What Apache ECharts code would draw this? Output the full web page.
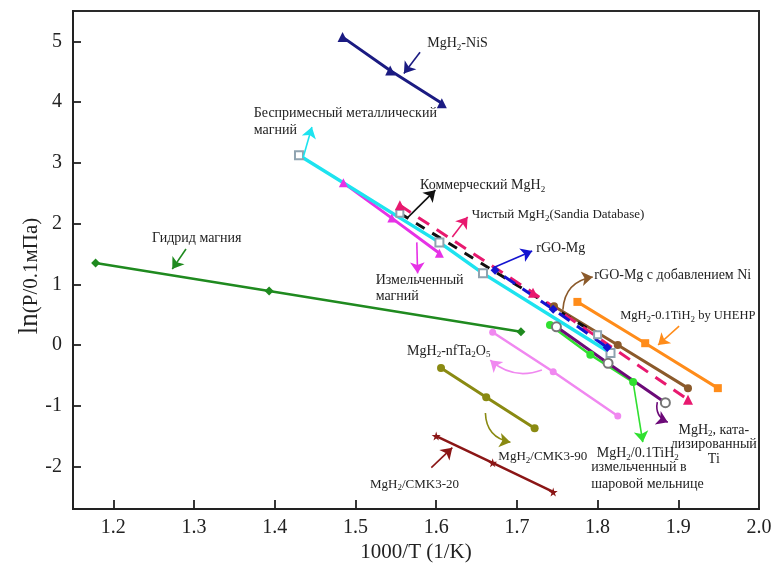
<!DOCTYPE html>
<html><head><meta charset="utf-8">
<script src="https://cdn.jsdelivr.net/npm/echarts@6/dist/echarts.min.js"></script>
<style>html,body{margin:0;padding:0;background:#fff}#c{width:775px;height:569px}</style>
</head><body><div id="c"></div>
<script>
// ---- tick labels ----
const xTickValues = [1.2, 1.3, 1.4, 1.5, 1.6, 1.7, 1.8, 1.9, 2.0];
const yTickValues = [-2, -1, 0, 1, 2, 3, 4, 5];

// ---- series values [1000/T, ln(P)] ----
const nisData        = [[1.484, 5.07], [1.543, 4.52], [1.607, 3.98]];
const pureMgData     = [[1.430, 3.125], [1.604, 1.69], [1.658, 1.18], [1.816, -0.13]];
const commercialData = [[1.555, 2.17], [1.800, 0.17]];
const sandiaData     = [[1.555, 2.30], [1.720, 0.86], [1.912, -0.90]];
const milledMgData   = [[1.485, 2.67], [1.545, 2.09], [1.604, 1.51]];
const hydrideData    = [[1.178, 1.35], [1.393, 0.89], [1.705, 0.22]];
const rgoData        = [[1.673, 1.23], [1.745, 0.59], [1.812, -0.04]];
const rgoNiData      = [[1.746, 0.64], [1.825, 0.00], [1.912, -0.71]];
const uhehpData      = [[1.775, 0.71], [1.859, 0.03], [1.949, -0.71]];
const tiCatData      = [[1.749, 0.30], [1.813, -0.30], [1.884, -0.95]];
const tiH2BallData   = [[1.741, 0.33], [1.791, -0.16], [1.844, -0.61]];
const ta2o5Data      = [[1.670, 0.21], [1.745, -0.44], [1.825, -1.17]];
const cmk90Data      = [[1.606, -0.38], [1.662, -0.86], [1.722, -1.37]];
const cmk20Data      = [[1.600, -1.50], [1.670, -1.94], [1.745, -2.42]];

// ---- annotation arrows: [xTail, yTail, xHead, yHead, curveness] ----
const arrowNiS      = [1.580, 4.82, 1.560, 4.47, 0];
const arrowPure     = [1.435, 3.08, 1.446, 3.59, 0];
const arrowComm     = [1.564, 2.09, 1.599, 2.55, 0];
const arrowSandia   = [1.620, 1.78, 1.639, 2.11, 0];
const arrowMilled   = [1.576, 1.69, 1.577, 1.18, 0];
const arrowHydride  = [1.290, 1.58, 1.273, 1.25, 0];
const arrowRgo      = [1.670, 1.27, 1.719, 1.55, 0];
const arrowRgoNi    = [1.757, 0.58, 1.794, 1.12, 0.4];
const arrowUhehp    = [1.901, 0.31, 1.875, 0.00, 0];
const arrowTa2o5    = [1.731, -0.41, 1.667, -0.25, 0.3];
const arrowCmk90    = [1.661, -1.12, 1.692, -1.60, -0.4];
const arrowCmk20    = [1.594, -2.02, 1.620, -1.69, 0];
const arrowTiH2Ball = [1.844, -0.61, 1.856, -1.60, 0];
const arrowTiCat    = [1.874, -0.94, 1.887, -1.27, -0.4];

// ---- annotation texts: [text, x, y, align] ----
const labelTexts = [
  ['MgH_{2}-NiS', 1.589, 4.97, 'left'],
  ['Беспримесный металлический', 1.374, 3.82, 'left'],
  ['магний', 1.374, 3.54, 'left'],
  ['Коммерческий MgH_{2}', 1.580, 2.63, 'left'],
  ['Чистый MgH_{2}(Sandia Database)', 1.644, 2.14, 'left'],
  ['Измельченный', 1.525, 1.07, 'left'],
  ['магний', 1.525, 0.81, 'left'],
  ['Гидрид магния', 1.248, 1.76, 'left'],
  ['rGO-Mg', 1.724, 1.60, 'left'],
  ['rGO-Mg с добавлением Ni', 1.796, 1.15, 'left'],
  ['MgH_{2}-0.1TiH_{2} by UHEHP', 1.828, 0.49, 'left'],
  ['MgH_{2}-nfTa_{2}O_{5}', 1.564, -0.10, 'left'],
  ['MgH_{2}/CMK3-90', 1.677, -1.83, 'left'],
  ['MgH_{2}/CMK3-20', 1.518, -2.29, 'left'],
  ['MgH_{2}/0.1TiH_{2}', 1.799, -1.79, 'left'],
  ['измельченный в', 1.792, -2.02, 'left'],
  ['шаровой мельнице', 1.792, -2.29, 'left'],
  ['MgH_{2}, ката-', 1.944, -1.40, 'center'],
  ['лизированный', 1.944, -1.64, 'center'],
  ['Ti', 1.944, -1.89, 'center']
];

const SERIF = '"Liberation Serif","Times New Roman",serif';
const STAR = 'path://M50,0 L61,35 L98,35 L68,57 L79,91 L50,70 L21,91 L32,57 L2,35 L39,35 Z';

function mk(name, data, color, o) {
  return {
    name: name, type: 'line', data: data,
    symbol: o.symbol, symbolSize: o.size,
    showSymbol: true,
    lineStyle: { color: color, width: o.width, type: o.dash || 'solid', dashOffset: o.dashOffset || 0 },
    itemStyle: { color: o.markerColor || color, borderWidth: o.markerColor ? 1.2 : 0 },
    emphasis: { disabled: true },
    animation: false, silent: true
  };
}

const arrowDefs = [
  [arrowNiS, '#1b1b82'], [arrowPure, '#1de3ef'], [arrowComm, '#111111'],
  [arrowSandia, '#e8196f'], [arrowMilled, '#e632e6'], [arrowHydride, '#1f8a1f'],
  [arrowRgo, '#1414d0'], [arrowRgoNi, '#8b5a2b'], [arrowUhehp, '#ff8c1a'],
  [arrowTa2o5, '#f088f0'], [arrowCmk90, '#8a8a12'], [arrowCmk20, '#8b1616'],
  [arrowTiH2Ball, '#30e030'], [arrowTiCat, '#6c0a78']
];

const series = [
  mk('Гидрид магния', hydrideData, '#1f8a1f', {symbol: 'diamond', size: 9, width: 2.5}),
  mk('MgH2/CMK3-90', cmk90Data, '#8a8a12', {symbol: 'circle', size: 8, width: 3}),
  mk('MgH2/CMK3-20', cmk20Data, '#8b1616', {symbol: STAR, size: 9, width: 2.5}),
  mk('MgH2-nfTa2O5', ta2o5Data, '#f088f0', {symbol: 'circle', size: 7, width: 2.5}),
  mk('MgH2/0.1TiH2 ball', tiH2BallData, '#30e030', {symbol: 'circle', size: 8, width: 2.5}),
  mk('MgH2 Ti', tiCatData, '#6c0a78', {symbol: 'emptyCircle', size: 9, width: 3, markerColor: '#777777'}),
  mk('rGO-Mg Ni', rgoNiData, '#8b5a2b', {symbol: 'circle', size: 8, width: 3}),
  mk('UHEHP', uhehpData, '#ff8c1a', {symbol: 'rect', size: 8, width: 3}),
  mk('Измельченный магний', milledMgData, '#e632e6', {symbol: 'triangle', size: 9, width: 3}),
  mk('Беспримесный', pureMgData, '#1de3ef', {symbol: 'emptyRect', size: 8, width: 3.5, markerColor: '#8fa3b0'}),
  mk('Коммерческий', commercialData, '#111111', {symbol: 'emptyRect', size: 7, width: 3, dash: [10, 9], markerColor: '#8fa3b0'}),
  mk('Sandia', sandiaData, '#e8196f', {symbol: 'triangle', size: 10, width: 3, dash: [13, 9]}),
  mk('rGO-Mg', rgoData, '#1414d0', {symbol: 'diamond', size: 9, width: 3, dash: [13, 9], dashOffset: 11}),
  mk('MgH2-NiS', nisData, '#1b1b82', {symbol: 'triangle', size: 10, width: 3}),
  {
    type: 'lines', coordinateSystem: 'cartesian2d',
    symbol: ['none', 'arrow'], symbolSize: [0, 11],
    silent: true, animation: false, z: 5,
    lineStyle: { width: 1.6, opacity: 1 },
    data: arrowDefs.map(function (d) {
      const a = d[0];
      return { coords: [[a[0], a[1]], [a[2], a[3]]], lineStyle: { color: d[1], curveness: a[4], width: 1.6 } };
    })
  }
];

const chart = echarts.init(document.getElementById('c'), null, {renderer: 'canvas'});
chart.setOption({
  backgroundColor: '#ffffff',
  animation: false,
  grid: { left: 73, right: 16, top: 11, bottom: 60, show: true, borderColor: '#2a2a2a', borderWidth: 2 },
  xAxis: {
    type: 'value', min: 1.15, max: 2.0,
    axisLine: { show: true, onZero: false, lineStyle: { color: '#222', width: 2 } },
    axisTick: { show: true, inside: true, length: 9, lineStyle: { color: '#222', width: 1.8 }, customValues: [1.2, 1.3, 1.4, 1.5, 1.6, 1.7, 1.8, 1.9] },
    axisLabel: { fontFamily: SERIF, fontSize: 20, color: '#222', margin: 9, customValues: xTickValues, showMaxLabel: true,
      formatter: function (v) { return v.toFixed(1); } },
    splitLine: { show: false }
  },
  yAxis: {
    type: 'value', min: -2.7, max: 5.5,
    axisLine: { show: true, onZero: false, lineStyle: { color: '#222', width: 2 } },
    axisTick: { show: true, inside: true, length: 8, lineStyle: { color: '#222', width: 1.8 }, customValues: yTickValues },
    axisLabel: { fontFamily: SERIF, fontSize: 20, color: '#222', margin: 11, customValues: yTickValues,
      formatter: function (v) { return String(Math.round(v)); } },
    splitLine: { show: false }
  },
  series: series
});

function toRich(s) { return s.replace(/_\{([^}]*)\}/g, '{s|$1}'); }

const graphics = labelTexts.map(function (t) {
  const p = chart.convertToPixel({gridIndex: 0}, [t[1], t[2]]);
  let fs = 14;
  if (/Sandia|CMK3/.test(t[0])) fs = 13;
  if (/UHEHP/.test(t[0])) fs = 12.5;
  return {
    type: 'text', x: p[0], y: p[1], silent: true, z: 100,
    style: {
      text: toRich(t[0]), fontFamily: SERIF, fontSize: fs, fill: '#222',
      align: t[3], verticalAlign: 'middle',
      rich: { s: { fontFamily: SERIF, fontSize: 9, fill: '#222', padding: [8, 0, 0, 0] } }
    }
  };
});
graphics.push({
  type: 'text', x: 416, y: 552, silent: true,
  style: { text: '1000/T (1/K)', fontFamily: SERIF, fontSize: 21, fill: '#222', align: 'center', verticalAlign: 'middle' }
});
graphics.push({
  type: 'text', x: 30, y: 276, rotation: Math.PI / 2, silent: true,
  style: {
    text: '{l|ln}{r|(P/0.1мПа)}', fontFamily: SERIF, fill: '#222', align: 'center', verticalAlign: 'middle',
    rich: { l: { fontFamily: SERIF, fontSize: 27, fill: '#222' }, r: { fontFamily: SERIF, fontSize: 21, fill: '#222', padding: [3, 0, 0, 0] } }
  }
});
chart.setOption({ graphic: graphics });
</script>
</body></html>
